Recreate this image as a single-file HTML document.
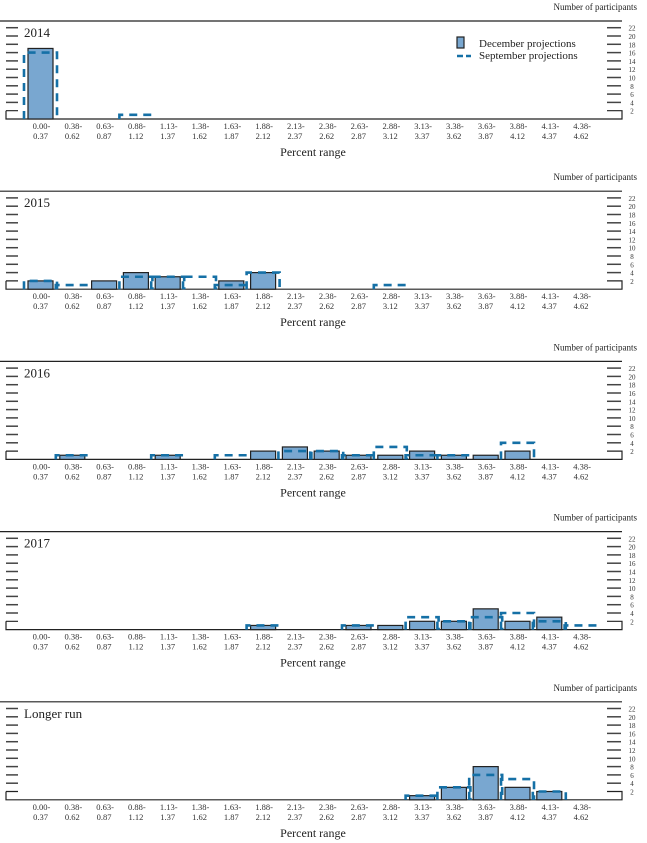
<!DOCTYPE html>
<html><head><meta charset="utf-8"><style>
body{margin:0;background:#fff;}
svg{display:block;font-family:"Liberation Serif",serif;}
</style></head><body>
<svg id="chart" width="647" height="843" viewBox="0 0 647 843" xmlns="http://www.w3.org/2000/svg"></svg>
<script>
const binLabelsTop = ["0.00-","0.38-","0.63-","0.88-","1.13-","1.38-","1.63-","1.88-","2.13-","2.38-","2.63-","2.88-","3.13-","3.38-","3.63-","3.88-","4.13-","4.38-"];
const binLabelsBottom = ["0.37","0.62","0.87","1.12","1.37","1.62","1.87","2.12","2.37","2.62","2.87","3.12","3.37","3.62","3.87","4.12","4.37","4.62"];
const panelTitles = ["2014","2015","2016","2017","Longer run"];
const yTicks = [2,4,6,8,10,12,14,16,18,20,22];
const dec2014 = [17,0,0,0,0,0,0,0,0,0,0,0,0,0,0,0,0,0];
const sep2014 = [16,0,0,1,0,0,0,0,0,0,0,0,0,0,0,0,0,0];
const dec2015 = [2,0,2,4,3,0,2,4,0,0,0,0,0,0,0,0,0,0];
const sep2015 = [2,1,0,3,3,3,1,4,0,0,0,1,0,0,0,0,0,0];
const dec2016 = [0,1,0,0,1,0,0,2,3,2,1,1,2,1,1,2,0,0];
const sep2016 = [0,1,0,0,1,0,1,0,2,2,1,3,1,1,0,4,0,0];
const dec2017 = [0,0,0,0,0,0,0,1,0,0,1,1,2,2,5,2,3,0];
const sep2017 = [0,0,0,0,0,0,0,1,0,0,1,0,3,2,3,4,2,1];
const decLong = [0,0,0,0,0,0,0,0,0,0,0,0,1,3,8,3,2,0];
const sepLong = [0,0,0,0,0,0,0,0,0,0,0,0,1,3,6,5,2,0];
const decSeries = [dec2014,dec2015,dec2016,dec2017,decLong];
const sepSeries = [sep2014,sep2015,sep2016,sep2017,sepLong];

const NS="http://www.w3.org/2000/svg";
const svg=document.getElementById('chart');
function mk(tag,attrs,parent){const e=document.createElementNS(NS,tag);for(const k in attrs)e.setAttribute(k,attrs[k]);(parent||svg).appendChild(e);return e;}
const PANEL_H=170.2, BASE=119, UNIT=4.15;
const xCenter=i=>40.5+31.8*i;
const yVal=(v,oy)=>oy+BASE-v*UNIT;

panelTitles.forEach((title,p)=>{
  const oy=p*PANEL_H;
  const g=mk('g',{});
  
  
  let t=mk('text',{x:637,y:oy+10,'font-size':9,'text-anchor':'end',fill:'#222'},g);
  t.textContent='Number of participants';
  
  
  let l=mk('line',{x1:0,x2:622,y1:oy+21,y2:oy+21,stroke:'#222','stroke-width':1.2},g);
  
  
  // axis bracket
  let ax=mk('path',{d:`M6 ${yVal(2,oy)} L18 ${yVal(2,oy)} M6 ${yVal(2,oy)} L6 ${oy+BASE} L622 ${oy+BASE} L622 ${yVal(2,oy)} L607 ${yVal(2,oy)}`,fill:'none',stroke:'#222','stroke-width':1.2},g);
  
  
  yTicks.forEach(v=>{
    const y=yVal(v,oy);
    if(v>2){
      let a=mk('line',{x1:6,x2:18,y1:y,y2:y,stroke:'#444','stroke-width':1.5},g);
      
      
      let b=mk('line',{x1:607,x2:621,y1:y,y2:y,stroke:'#444','stroke-width':1.5},g);
      
      
    }
    let tl=mk('text',{x:632,y:y+3,'font-size':7,'text-anchor':'middle',fill:'#333'},g);
    tl.textContent=v;
    
    
  });
  let tt=mk('text',{x:24,y:oy+37,'font-size':13,fill:'#222'},g);
  tt.textContent=title;
  
  
  // bars
  decSeries[p].forEach((v,i)=>{
    if(!v)return;
    let r=mk('rect',{x:xCenter(i)-12.5,y:yVal(v,oy),width:25,height:v*UNIT,fill:'#79a7d0',stroke:'#222','stroke-width':1.2},g);
    
    
  });
  sepSeries[p].forEach((v,i)=>{
    if(!v)return;
    const x0=xCenter(i)-16.5,x1=xCenter(i)+16.5,y=yVal(v,oy),yb=oy+BASE;
    let d=mk('path',{d:`M${x0} ${yb} L${x0} ${y} L${x1} ${y} L${x1} ${yb}`,fill:'none',stroke:'#1570a6','stroke-width':2.6,'stroke-dasharray':'8,6'},g);
    
    
  });
  binLabelsTop.forEach((s,i)=>{
    let a=mk('text',{x:xCenter(i)+1,y:oy+129,'font-size':8.5,'text-anchor':'middle',fill:'#333'},g);
    a.textContent=s;
    
    
    let b=mk('text',{x:xCenter(i),y:oy+139,'font-size':8.5,'text-anchor':'middle',fill:'#333'},g);
    b.textContent=binLabelsBottom[i];
    
    
  });
  let xt=mk('text',{x:313,y:oy+156,'font-size':12,'text-anchor':'middle',fill:'#222'},g);
  xt.textContent='Percent range';
  
  
});
// legend
const lg=mk('g',{});


let sw=mk('rect',{x:457,y:37,width:7,height:11,fill:'#79a7d0',stroke:'#222','stroke-width':1.2},lg);


let lt1=mk('text',{x:479,y:47,'font-size':11,fill:'#222'},lg);
lt1.textContent='December projections';


let sl=mk('line',{x1:457,x2:471,y1:56,y2:56,stroke:'#1570a6','stroke-width':2.6,'stroke-dasharray':'6,3'},lg);


let lt2=mk('text',{x:479,y:59,'font-size':11,fill:'#222'},lg);
lt2.textContent='September projections';


</script>
</body></html>
